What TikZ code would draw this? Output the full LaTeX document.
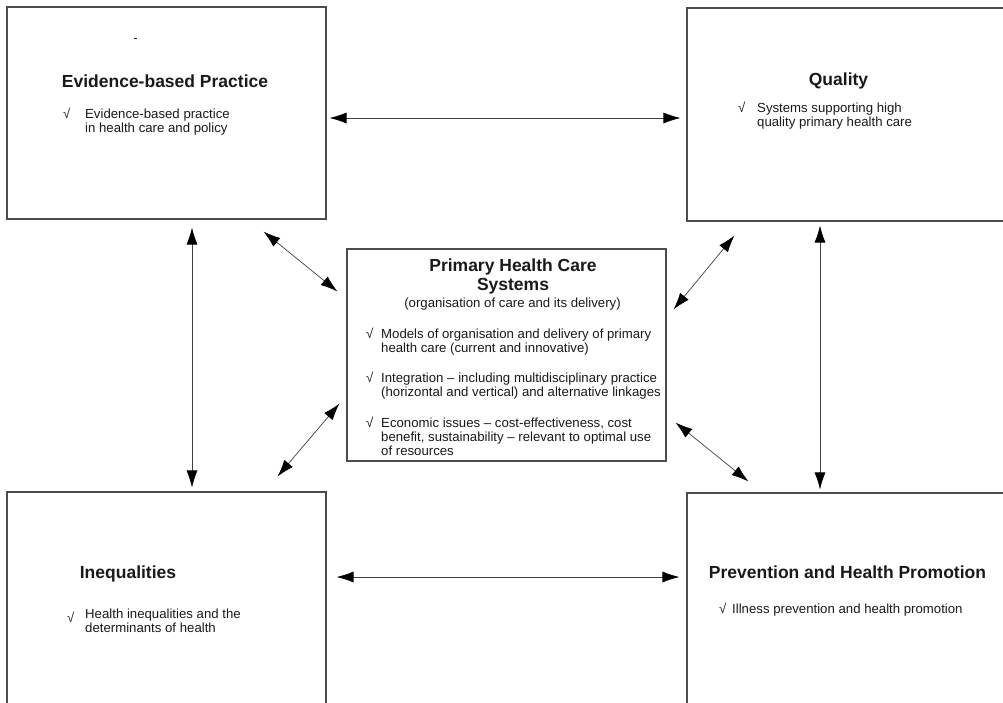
\documentclass[tikz,border=0pt]{standalone}
\usepackage{fontspec}
\setmainfont{Liberation Sans}
\usetikzlibrary{arrows.meta}

\begin{document}
\begin{tikzpicture}[x=1pt,y=-1pt]

    % Styles
    \tikzstyle{box}=[draw=black!70, line width=1.1pt, rectangle, inner sep=0pt]
    \tikzstyle{title}=[font=\fontsize{17.5}{19}\selectfont\bfseries, text=black!90, inner sep=0pt, anchor=base]
    \tikzstyle{item}=[font=\fontsize{13.2}{14}\selectfont, text=black!90, inner sep=0pt, anchor=base west]
    \tikzstyle{link}=[{Latex[length=17pt,width=11pt,color=black]}-{Latex[length=17pt,width=11pt,color=black]}, line width=0.7pt, draw=black!75]

    \useasboundingbox (0,0) rectangle (1003,702);

    % boxes
    \node[box, minimum width=319pt, minimum height=212pt] (ebp)  at (166.5,113) {};
    \node[box, minimum width=323pt, minimum height=213pt] (qual) at (848.5,114.5) {};
    \node[box, minimum width=319pt, minimum height=212pt] (phc)  at (506.5,355) {};
    \node[box, minimum width=319pt, minimum height=218pt] (ineq) at (166.5,601) {};
    \node[box, minimum width=323pt, minimum height=217pt] (prev) at (848.5,601.5) {};

    % evidence-based practice
    \node[title] (ebptitle) at (165,87) {Evidence-based Practice};
    \node[item] (ebpitem) at (63,118) {\begin{tabular}[t]{@{}p{22pt}@{}l@{}}√ & Evidence-based practice\\ & in health care and policy\end{tabular}};
    \fill[black!90] (134,37.5) rectangle (137,38.8);

    % quality
    \node[title] (qualtitle) at (838.5,85) {Quality};
    \node[item] (qualitem) at (738,112) {\begin{tabular}[t]{@{}p{19pt}@{}l@{}}√ & Systems supporting high\\ & quality primary health care\end{tabular}};

    % primary health care systems
    \node[title, align=center] (phctitle) at (513,290) {Primary Health Care\\Systems};
    \node[item, anchor=base] (phcsub) at (512.5,307) {(organisation of care and its delivery)};
    \node[item] (phcitems) at (366,338) {\begin{tabular}[t]{@{}p{15pt}@{}l@{}}
        √ & Models of organisation and delivery of primary\\
          & health care (current and innovative)\\[16pt]
        √ & Integration – including multidisciplinary practice\\
          & (horizontal and vertical) and alternative linkages\\[16pt]
        √ & Economic issues – cost-effectiveness, cost\\
          & benefit, sustainability – relevant to optimal use\\
          & of resources
    \end{tabular}};

    % inequalities
    \node[title] (ineqtitle) at (128,578) {Inequalities};
    \node[item] (ineqitem) at (67,618) {\begin{tabular}[t]{@{}p{18pt}@{}l@{}}\raisebox{-4pt}{√} & Health inequalities and the\\ & determinants of health\end{tabular}};

    % prevention and health promotion
    \node[title] (prevtitle) at (847.5,578) {Prevention and Health Promotion};
    \node[item] (previtem) at (719,613) {\begin{tabular}[t]{@{}p{13pt}@{}l@{}}√ & Illness prevention and health promotion\end{tabular}};

    % outer links
    \draw[link] ([xshift=3pt,yshift=-5pt]ebp.east) -- ([xshift=-6pt,yshift=-3.5pt]qual.west);
    \draw[link] ([xshift=10pt,yshift=24pt]ineq.east) -- ([xshift=-7pt,yshift=24.5pt]prev.west);
    \draw[link] ([xshift=25.5pt,yshift=-8pt]ebp.south) -- ([xshift=25.5pt,yshift=4pt]ineq.north);
    \draw[link] ([xshift=-28.5pt,yshift=-4pt]qual.south) -- ([xshift=-28.5pt,yshift=3pt]prev.north);

    % links to the centre
    \draw[link] ([xshift=-63pt,yshift=-12pt]ebp.south east) -- ([xshift=-9pt,yshift=-43pt]phc.north west);
    \draw[link] ([xshift=-7pt,yshift=58pt]phc.south west) -- ([xshift=-49pt,yshift=15pt]ineq.north east);
    \draw[link] ([xshift=48pt,yshift=-14pt]qual.south west) -- ([xshift=7pt,yshift=-61pt]phc.north east);
    \draw[link] ([xshift=9pt,yshift=39pt]phc.south east) -- ([xshift=62pt,yshift=11pt]prev.north west);

\end{tikzpicture}
\end{document}
